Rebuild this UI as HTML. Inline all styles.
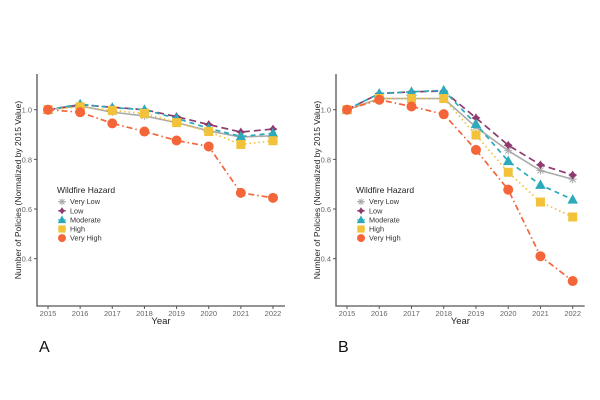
<!DOCTYPE html>
<html><head><meta charset="utf-8"><style>
body{margin:0;background:#fff;}
svg{display:block;font-family:"Liberation Sans",sans-serif;}
</style></head><body>
<svg id="chart" width="600" height="400" viewBox="0 0 600 400"></svg>
<script>
const years = [2015,2016,2017,2018,2019,2020,2021,2022];
const seriesNames = ["Very Low","Low","Moderate","High","Very High"];
const yTicks = [0.4,0.6,0.8,1.0];
const aVeryLow = [1.0,1.015,0.99,0.975,0.948,0.915,0.89,0.895];
const aLow = [1.0,1.02,1.01,1.0,0.972,0.94,0.91,0.922];
const aModerate = [1.0,1.022,1.008,1.0,0.965,0.925,0.892,0.905];
const aHigh = [1.0,1.012,0.997,0.985,0.948,0.912,0.86,0.875];
const aVeryHigh = [1.0,0.99,0.945,0.912,0.876,0.852,0.665,0.645];
const bVeryLow = [1.0,1.045,1.045,1.045,0.93,0.835,0.755,0.72];
const bLow = [1.0,1.065,1.072,1.075,0.967,0.857,0.778,0.737];
const bModerate = [1.0,1.065,1.072,1.078,0.942,0.793,0.697,0.638];
const bHigh = [1.0,1.045,1.045,1.045,0.898,0.748,0.628,0.568];
const bVeryHigh = [1.0,1.04,1.013,0.982,0.838,0.678,0.41,0.31];

const styles = [
 {c:"#aaaaaa",dash:"",w:1.6,shape:"star"},
 {c:"#8e3a6e",dash:"7,4",w:1.7,shape:"plus"},
 {c:"#2aaabb",dash:"5,4",w:1.7,shape:"tri"},
 {c:"#f2c23a",dash:"1.5,3",w:1.7,shape:"sq"},
 {c:"#f4663a",dash:"6,3,1.5,3",w:1.7,shape:"circ"}
];
const svg = document.getElementById('chart');
const NS = "http://www.w3.org/2000/svg";
function mk(tag, attrs, parent){const e=document.createElementNS(NS,tag);for(const k in attrs)e.setAttribute(k,attrs[k]);(parent||svg).appendChild(e);return e;}
function marker(g, shape, x, y, c, s){
  s = s||1;
  let m;
  if(shape==="circ") m=mk('circle',{cx:x,cy:y,r:5*s,fill:c},g);
  else if(shape==="sq") m=mk('rect',{x:x-4.5*s,y:y-4.5*s,width:9*s,height:9*s,fill:c},g);
  else if(shape==="tri") m=mk('polygon',{points:`${x},${y-5.5*s} ${x+5.3*s},${y+4*s} ${x-5.3*s},${y+4*s}`,fill:c},g);
  else if(shape==="plus"){m=mk('polygon',{points:`${x},${y-4.5*s} ${x+1.8*s},${y-1.8*s} ${x+4.5*s},${y} ${x+1.8*s},${y+1.8*s} ${x},${y+4.5*s} ${x-1.8*s},${y+1.8*s} ${x-4.5*s},${y} ${x-1.8*s},${y-1.8*s}`,fill:c},g);}
  else {m=mk('path',{d:`M${x-4*s},${y}H${x+4*s}M${x},${y-4*s}V${y+4*s}M${x-3*s},${y-3*s}L${x+3*s},${y+3*s}M${x-3*s},${y+3*s}L${x+3*s},${y-3*s}`,stroke:c,'stroke-width':1,fill:"none"},g);}
  return m;
}
function panel(id, axX, x0, x1, data, label){
  const g = mk('g',{});
  
  
  const yOf = v => 109.7 + (1-v)*248.3;
  const xOf = i => x0 + (x1-x0)*i/(years.length-1);
  const axis = mk('path',{d:`M${axX},74V306H${x1+12}`,stroke:"#555",'stroke-width':1.3,fill:"none"},g);
  
  
  yTicks.forEach(t=>{
    mk('line',{x1:axX-3,x2:axX,y1:yOf(t),y2:yOf(t),stroke:"#555"},g);
    const tx = mk('text',{x:axX-5,y:yOf(t)+3,'font-size':7.5,fill:"#666",'text-anchor':"end"},g);
    tx.textContent = t.toFixed(1);
    
    
  });
  years.forEach((yr,i)=>{
    mk('line',{x1:xOf(i),x2:xOf(i),y1:306,y2:309,stroke:"#555"},g);
    const tx = mk('text',{x:xOf(i),y:316,'font-size':7.5,fill:"#666",'text-anchor':"middle"},g);
    tx.textContent = yr;
    
    
  });
  const xt = mk('text',{x:(axX+x1+12)/2,y:324,'font-size':9.5,fill:"#222",'text-anchor':"middle"},g);
  xt.textContent="Year";
  
  
  const yt = mk('text',{x:0,y:0,'font-size':8.5,fill:"#222",'text-anchor':"middle",transform:`translate(${axX-16},190) rotate(-90)`},g);
  yt.textContent="Number of Policies (Normalized by 2015 Value)";
  
  
  data.forEach((vals,si)=>{
    const st = styles[si];
    const d = vals.map((v,i)=>(i?"L":"M")+xOf(i)+","+yOf(v)).join("");
    const p = mk('path',{d:d,stroke:st.c,'stroke-width':st.w,fill:"none",'stroke-dasharray':st.dash},g);
    
    
    vals.forEach((v,i)=>{
      const m = marker(g, st.shape, xOf(i), yOf(v), st.c, 1);
      
      
    });
  });
  const lg = mk('g',{},g);
  
  
  const lx = axX+20;
  const tt = mk('text',{x:lx,y:193,'font-size':8.5,fill:"#222"},lg);
  tt.textContent="Wildfire Hazard";
  
  
  seriesNames.forEach((n,si)=>{
    const y = 201.7 + si*9.1;
    const st = styles[si];
    mk('line',{x1:lx+1,x2:lx+9,y1:y,y2:y,stroke:st.c,'stroke-width':1},lg);
    marker(lg, st.shape, lx+5, y, st.c, 0.8);
    const tx = mk('text',{x:lx+13,y:y+2.5,'font-size':7.3,fill:"#333"},lg);
    tx.textContent=n;
    
    
  });
  const L = mk('text',{x:axX+2,y:352,'font-size':16,fill:"#111"},g);
  L.textContent=label;
  
  
}
panel('a',37,48,273,[aVeryLow,aLow,aModerate,aHigh,aVeryHigh],"A");
panel('b',336,347,572.7,[bVeryLow,bLow,bModerate,bHigh,bVeryHigh],"B");
</script>
</body></html>
